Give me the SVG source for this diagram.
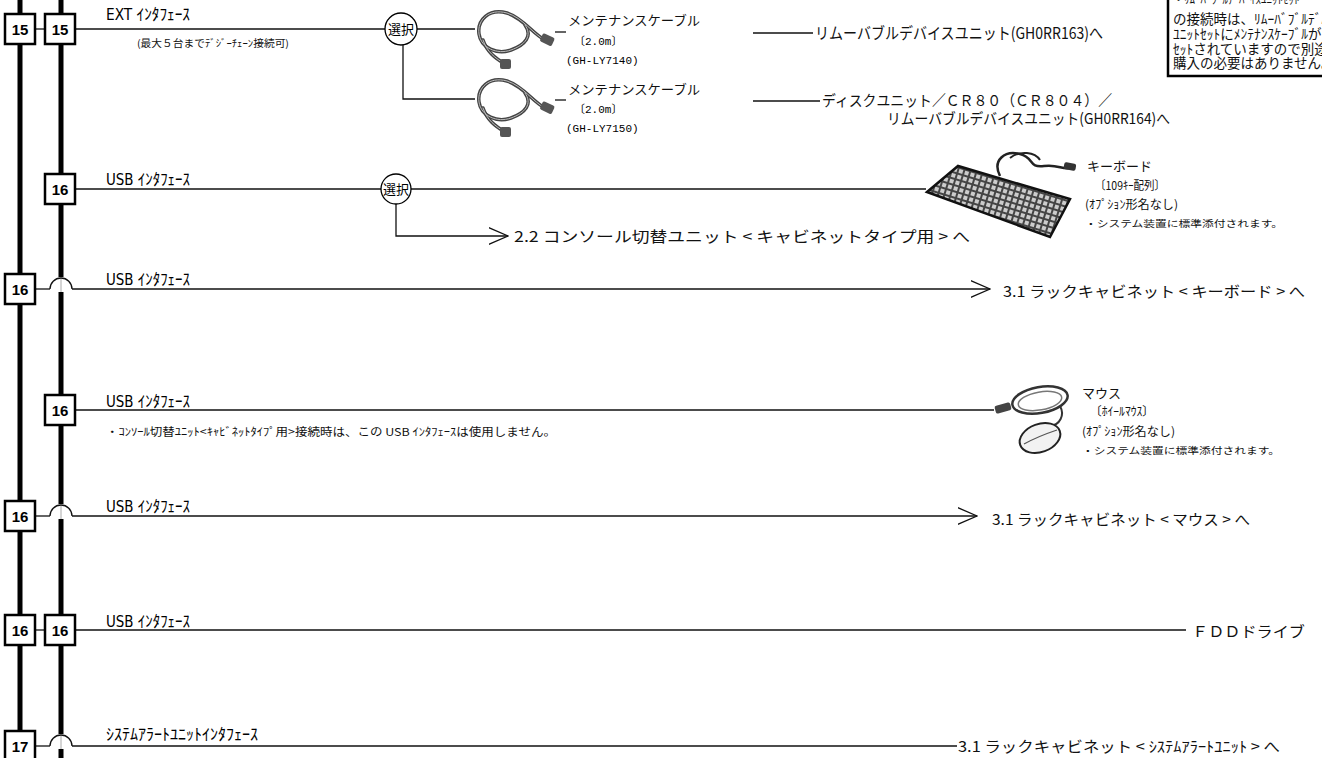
<svg xmlns="http://www.w3.org/2000/svg" xmlns:xlink="http://www.w3.org/1999/xlink" width="1322" height="758" viewBox="0 0 1322 758">
<style>
.bus{stroke:#000;stroke-width:5;fill:none}
.ln{stroke:#111;stroke-width:1.3;fill:none}
.box rect{fill:#fff;stroke:#000;stroke-width:2.5}
.box text{font-family:"Liberation Sans",Arial,sans-serif;font-weight:bold;font-size:15px;text-anchor:middle;fill:#000}
.sel circle{fill:#fff;stroke:#000;stroke-width:1.3}
.sel text{font-family:"Noto Sans CJK JP",sans-serif;font-size:13px;text-anchor:middle;fill:#000}
.lbl{font-family:"Liberation Sans Narrow","DejaVu Sans Condensed","Noto Sans CJK JP",sans-serif;font-size:16px;fill:#000}
.jp{font-family:"Noto Sans CJK JP",sans-serif;fill:#111}
.mono{font-family:"Liberation Mono","Noto Sans CJK JP",monospace;font-size:11px;fill:#000}
.cab{fill:none;stroke:#444;stroke-width:3.5;stroke-linecap:round}
.cabh{fill:none;stroke:#bbb;stroke-width:1;stroke-linecap:round}
</style>
<defs>
<marker id="chev" viewBox="0 0 20 18" refX="19.5" refY="9" markerWidth="20" markerHeight="18" markerUnits="userSpaceOnUse" orient="auto">
<path d="M0,0.5 L19.5,9 L0,17.5" fill="none" stroke="#111" stroke-width="1.3"/>
</marker>
<pattern id="keys" width="6" height="6" patternUnits="userSpaceOnUse" patternTransform="rotate(17)">
<rect width="6" height="6" fill="#444"/>
<rect x="1" y="1" width="4" height="4" fill="#ccc"/>
</pattern>
<g id="cable">
<path class="cab" d="M70,32 C58,26 48,10 32,5 C14,0 2,12 4,26 C6,40 22,47 36,42 C50,37 58,28 50,17"/>
<path class="cab" d="M8,32 C12,44 20,50 30,56"/>
<path class="cabh" d="M70,32 C58,26 48,10 32,5 C14,0 2,12 4,26 C6,40 22,47 36,42 C50,37 58,28 50,17"/>
<path class="cabh" d="M8,32 C12,44 20,50 30,56"/>
<rect x="66" y="27" width="13" height="9" rx="2" fill="#555" transform="rotate(25 72 31)"/>
<rect x="25" y="51" width="11" height="10" rx="2" fill="#555"/>
</g>
</defs>
<rect width="1322" height="758" fill="#fff"/>

<g id="connectors">
<line class="bus" x1="20" y1="0" x2="20" y2="758"/>
<line class="bus" x1="61" y1="0" x2="61" y2="758"/>
<line class="ln" x1="35" y1="29" x2="45" y2="29"/>
<line class="ln" x1="75" y1="29" x2="385" y2="29"/>
<line class="ln" x1="417" y1="29" x2="475" y2="29"/>
<polyline class="ln" points="403,45 403,99 475,99"/>
<line class="ln" x1="555" y1="32" x2="566" y2="32"/>
<line class="ln" x1="555" y1="100" x2="566" y2="100"/>
<line class="ln" x1="753" y1="33" x2="813" y2="33"/>
<line class="ln" x1="753" y1="101" x2="820" y2="101"/>
<line class="ln" x1="75" y1="189" x2="381" y2="189"/>
<line class="ln" x1="411" y1="189" x2="926" y2="189"/>
<polyline class="ln" points="396,204 396,236 508,236" marker-end="url(#chev)"/>
<rect x="57" y="277" width="8" height="15" fill="#fff"/>
<line x1="61" y1="279" x2="61" y2="292" stroke="#aaa" stroke-width="1"/>
<line class="ln" x1="35" y1="289" x2="50" y2="289"/>
<path class="ln" d="M50,289 A11,11 0 0 1 72,289"/>
<line class="ln" x1="72" y1="289" x2="990" y2="289" marker-end="url(#chev)"/>
<line class="ln" x1="75" y1="410" x2="994" y2="410"/>
<rect x="57" y="504" width="8" height="15" fill="#fff"/>
<line x1="61" y1="506" x2="61" y2="519" stroke="#aaa" stroke-width="1"/>
<line class="ln" x1="35" y1="516" x2="50" y2="516"/>
<path class="ln" d="M50,516 A11,11 0 0 1 72,516"/>
<line class="ln" x1="72" y1="516" x2="977" y2="516" marker-end="url(#chev)"/>
<line class="ln" x1="35" y1="630" x2="45" y2="630"/>
<line class="ln" x1="75" y1="630" x2="1186" y2="630"/>
<rect x="57" y="734" width="8" height="15" fill="#fff"/>
<line x1="61" y1="736" x2="61" y2="749" stroke="#aaa" stroke-width="1"/>
<line class="ln" x1="35" y1="746" x2="50" y2="746"/>
<path class="ln" d="M50,746 A11,11 0 0 1 72,746"/>
<line class="ln" x1="72" y1="746" x2="957" y2="746"/>
</g>

<g id="box-15a" class="box"><rect x="5" y="14" width="30" height="30"/><text x="20" y="34.5">15</text></g>
<g id="box-15b" class="box"><rect x="45" y="14" width="30" height="30"/><text x="60" y="34.5">15</text></g>
<g id="box-16-r2" class="box"><rect x="45" y="174" width="30" height="30"/><text x="60" y="194.5">16</text></g>
<g id="box-16-r3" class="box"><rect x="5" y="274" width="30" height="30"/><text x="20" y="294.5">16</text></g>
<g id="box-16-r4" class="box"><rect x="45" y="395" width="30" height="30"/><text x="60" y="415.5">16</text></g>
<g id="box-16-r5" class="box"><rect x="5" y="501" width="30" height="30"/><text x="20" y="521.5">16</text></g>
<g id="box-16-r6a" class="box"><rect x="5" y="615" width="30" height="30"/><text x="20" y="635.5">16</text></g>
<g id="box-16-r6b" class="box"><rect x="45" y="615" width="30" height="30"/><text x="60" y="635.5">16</text></g>
<g id="box-17" class="box"><rect x="5" y="731" width="30" height="30"/><text x="20" y="751.5">17</text></g>

<g id="labels">
<text class="lbl" x="106" y="20" textLength="84" lengthAdjust="spacingAndGlyphs">EXT ｲﾝﾀﾌｪｰｽ</text>
<text class="jp" x="137" y="47" font-size="10" textLength="152" lengthAdjust="spacingAndGlyphs">(最大５台までﾃﾞｼﾞｰﾁｪｰﾝ接続可)</text>
<text class="lbl" x="106" y="185" textLength="84" lengthAdjust="spacingAndGlyphs">USB ｲﾝﾀﾌｪｰｽ</text>
<text class="lbl" x="106" y="285" textLength="84" lengthAdjust="spacingAndGlyphs">USB ｲﾝﾀﾌｪｰｽ</text>
<text class="lbl" x="106" y="407" textLength="84" lengthAdjust="spacingAndGlyphs">USB ｲﾝﾀﾌｪｰｽ</text>
<text class="jp" x="106" y="436" font-size="11" textLength="450" lengthAdjust="spacingAndGlyphs">・ｺﾝｿｰﾙ切替ﾕﾆｯﾄ&lt;ｷｬﾋﾞﾈｯﾄﾀｲﾌﾟ用&gt;接続時は、この USB ｲﾝﾀﾌｪｰｽは使用しません。</text>
<text class="lbl" x="106" y="512" textLength="84" lengthAdjust="spacingAndGlyphs">USB ｲﾝﾀﾌｪｰｽ</text>
<text class="lbl" x="106" y="627" textLength="84" lengthAdjust="spacingAndGlyphs">USB ｲﾝﾀﾌｪｰｽ</text>
<text class="lbl" x="106" y="740" textLength="152" lengthAdjust="spacingAndGlyphs">ｼｽﾃﾑｱﾗｰﾄﾕﾆｯﾄｲﾝﾀﾌｪｰｽ</text>
</g>

<g id="select-1" class="sel"><circle cx="401" cy="29" r="16"/><text x="401" y="34">選択</text></g>
<g id="select-2" class="sel"><circle cx="396" cy="189" r="15"/><text x="396" y="194">選択</text></g>

<g id="cable-1">
<use xlink:href="#cable" href="#cable" x="475" y="8"/>
<text class="jp" x="568" y="25" font-size="13" textLength="132" lengthAdjust="spacingAndGlyphs">メンテナンスケーブル</text>
<text class="mono" x="574" y="45">〔2.0m〕</text>
<text class="mono" x="566" y="64">(GH-LY7140)</text>
</g>
<g id="cable-2">
<use xlink:href="#cable" href="#cable" x="475" y="76"/>
<text class="jp" x="568" y="94" font-size="13" textLength="132" lengthAdjust="spacingAndGlyphs">メンテナンスケーブル</text>
<text class="mono" x="574" y="113">〔2.0m〕</text>
<text class="mono" x="566" y="132">(GH-LY7150)</text>
</g>

<g id="dest-1">
<text class="jp" x="815" y="39" font-size="16" textLength="288" lengthAdjust="spacingAndGlyphs">リムーバブルデバイスユニット(GH0RR163)へ</text>
</g>
<g id="dest-2">
<text class="jp" x="822" y="106" font-size="15" textLength="290" lengthAdjust="spacingAndGlyphs">ディスクユニット／ＣＲ８０（ＣＲ８０４）／</text>
<text class="jp" x="887" y="124" font-size="15" textLength="283" lengthAdjust="spacingAndGlyphs">リムーバブルデバイスユニット(GH0RR164)へ</text>
</g>

<g id="note">
<rect x="1168" y="-6" width="170" height="82" fill="#fff" stroke="#000" stroke-width="2.5"/>
<text class="jp" x="1173" y="4" font-size="11">・ﾘﾑｰﾊﾞﾌﾞﾙﾃﾞﾊﾞｲｽﾕﾆｯﾄｾｯﾄ</text>
<text class="jp" x="1173" y="24" font-size="13.5">の接続時は、ﾘﾑｰﾊﾞﾌﾞﾙﾃﾞﾊﾞ</text>
<text class="jp" x="1173" y="39" font-size="13.5">ﾕﾆｯﾄｾｯﾄにﾒﾝﾃﾅﾝｽｹｰﾌﾞﾙが</text>
<text class="jp" x="1173" y="54" font-size="13.5">ｾｯﾄされていますので別途</text>
<text class="jp" x="1173" y="68" font-size="13.5">購入の必要はありません。</text>
</g>

<g id="console-dest">
<text class="jp" x="514" y="242" font-size="15" textLength="456" lengthAdjust="spacingAndGlyphs">2.2 コンソール切替ユニット &lt; キャビネットタイプ用 &gt; へ</text>
</g>

<g id="keyboard">
<path d="M1000,176 C992,160 1005,150 1020,154 C1035,158 1028,168 1044,166 C1058,164 1062,170 1070,168" fill="none" stroke="#222" stroke-width="2.5"/>
<path d="M1010,158 C1020,150 1035,152 1040,160" fill="none" stroke="#222" stroke-width="2"/>
<rect x="1064" y="163" width="12" height="7" rx="2" fill="#333" transform="rotate(10 1070 166)"/>
<polygon points="927,192 958,166 1070,199 1050,237" fill="url(#keys)" stroke="#111" stroke-width="2.5"/>
<text class="jp" x="1087" y="171" font-size="13" textLength="65" lengthAdjust="spacingAndGlyphs">キーボード</text>
<text class="jp" x="1095" y="190" font-size="12" textLength="70" lengthAdjust="spacingAndGlyphs">〔109ｷｰ配列〕</text>
<text class="jp" x="1085" y="209" font-size="12" textLength="93" lengthAdjust="spacingAndGlyphs">(ｵﾌﾟｼｮﾝ形名なし)</text>
<text class="jp" x="1085" y="227" font-size="9.5" textLength="198" lengthAdjust="spacingAndGlyphs">・システム装置に標準添付されます。</text>
</g>

<g id="rack-kb">
<text class="jp" x="1003" y="297" font-size="15" textLength="302" lengthAdjust="spacingAndGlyphs">3.1 ラックキャビネット &lt; キーボード &gt; へ</text>
</g>

<g id="mouse">
<ellipse cx="1040" cy="400" rx="28" ry="13" transform="rotate(-10 1040 400)" fill="none" stroke="#333" stroke-width="2.5"/>
<ellipse cx="1040" cy="401" rx="22" ry="9" transform="rotate(-10 1040 401)" fill="none" stroke="#777" stroke-width="1.5"/>
<rect x="995" y="404" width="16" height="8" rx="2" fill="#444" transform="rotate(-15 1003 408)"/>
<path d="M1060,406 C1065,415 1060,425 1050,426" fill="none" stroke="#333" stroke-width="2"/>
<ellipse cx="1040" cy="438" rx="21" ry="14" transform="rotate(-20 1040 438)" fill="#f2f2f2" stroke="#222" stroke-width="2"/>
<path d="M1024,444 C1035,438 1045,434 1057,430" fill="none" stroke="#555" stroke-width="1.2"/>
<text class="jp" x="1082" y="398" font-size="13" textLength="39" lengthAdjust="spacingAndGlyphs">マウス</text>
<text class="jp" x="1090" y="416" font-size="12" textLength="64" lengthAdjust="spacingAndGlyphs">〔ﾎｲｰﾙﾏｳｽ〕</text>
<text class="jp" x="1082" y="436" font-size="12" textLength="93" lengthAdjust="spacingAndGlyphs">(ｵﾌﾟｼｮﾝ形名なし)</text>
<text class="jp" x="1082" y="454" font-size="9.5" textLength="198" lengthAdjust="spacingAndGlyphs">・システム装置に標準添付されます。</text>
</g>

<g id="rack-mouse">
<text class="jp" x="992" y="525" font-size="15" textLength="258" lengthAdjust="spacingAndGlyphs">3.1 ラックキャビネット &lt; マウス &gt; へ</text>
</g>

<g id="fdd">
<text class="jp" x="1192" y="637" font-size="15" textLength="113" lengthAdjust="spacingAndGlyphs">ＦＤＤドライブ</text>
</g>

<g id="rack-alert">
<text class="jp" x="958" y="752" font-size="15" textLength="322" lengthAdjust="spacingAndGlyphs">3.1 ラックキャビネット &lt; ｼｽﾃﾑｱﾗｰﾄﾕﾆｯﾄ &gt; へ</text>
</g>
</svg>
